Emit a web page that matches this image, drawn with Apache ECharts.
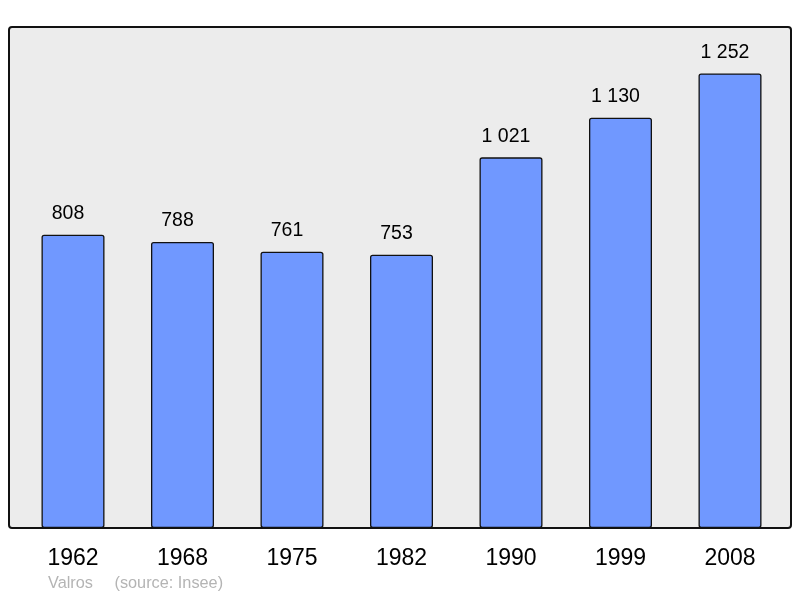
<!DOCTYPE html>
<html><head><meta charset="utf-8">
<script src="https://cdn.jsdelivr.net/npm/echarts@6/dist/echarts.min.js"></script>
<style>html,body{margin:0;padding:0;background:#fff}#c{width:800px;height:598px}</style>
</head><body><div id="c"></div>
<script>
const years = ['1962','1968','1975','1982','1990','1999','2008'];
const population = [808, 788, 761, 753, 1021, 1130, 1252];
const captionName = 'Valros';
const captionSource = '(source: Insee)';

function fmt(v){ return String(v).replace(/\B(?=(\d{3})+(?!\d))/g, ' '); }

const FF = 'Liberation Sans, Arial, sans-serif';
const chart = echarts.init(document.getElementById('c'), null, {renderer:'canvas'});
chart.setOption({
  animation: false,
  backgroundColor: '#ffffff',
  textStyle: {fontFamily: FF},
  grid: {left: 18.25, right: 15.25, top: 27, bottom: 70},
  graphic: [
    {type:'rect', z:-10, shape:{x:9, y:27, width:782, height:501, r:3}, style:{fill:'#ececec', stroke:null}},
    {type:'rect', z:100, shape:{x:9, y:27, width:782, height:501, r:3}, style:{fill:null, stroke:'#111', lineWidth:2}},
    {type:'text', left:48, top:576, style:{text: captionName, fill:'#b4b4b4', fontSize:16.3, fontFamily:FF}},
    {type:'text', left:114.5, top:576, style:{text: captionSource, fill:'#b4b4b4', fontSize:16.3, fontFamily:FF}}
  ],
  xAxis: {
    type:'category', data: years,
    axisLine:{show:false}, axisTick:{show:false},
    axisLabel:{fontSize:23, color:'#000', margin:19, fontFamily:FF}
  },
  yAxis: {
    type:'value', min:0, max:1380,
    axisLine:{show:false}, axisTick:{show:false}, axisLabel:{show:false}, splitLine:{show:false}
  },
  series: [{
    type:'bar', data: population, barWidth:63,
    itemStyle:{color:'#7098ff', borderColor:'#111', borderWidth:1.3, borderRadius:2},
    label:{show:true, position:'top', distance:11, offset:[-5,0], fontSize:19.5, color:'#000',
      fontFamily:FF, formatter: p => fmt(p.value)}
  }]
});
</script></body></html>
